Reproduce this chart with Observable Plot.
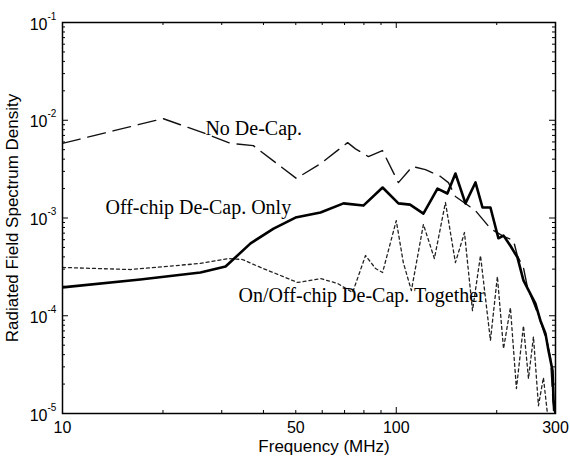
<!DOCTYPE html>
<html><head><meta charset="utf-8">
<script src="https://cdn.jsdelivr.net/npm/d3@7"></script>
<script src="https://cdn.jsdelivr.net/npm/@observablehq/plot@0.6"></script>
<style>body{margin:0;background:#fff}</style>
</head><body><div id="chart"></div>
<script>
// ---- data ----
const noDecapFreq = [10, 20, 26.8, 31.9, 37.3, 50.2, 59.3, 71.5, 75.5, 82.5, 90.9, 101.5, 111.8, 122.3, 135.7, 143.3, 150.4, 172.7, 191.5, 209.6, 224.4, 230.7, 240.5, 247.3, 270.4, 283.8, 289.8, 296];
const noDecapVal = [5.8e-3, 1.04e-2, 7.3e-3, 5.8e-3, 5.5e-3, 2.54e-3, 3.6e-3, 5.9e-3, 5.1e-3, 4.25e-3, 4.9e-3, 2.3e-3, 3.37e-3, 3.13e-3, 2.66e-3, 2.3e-3, 1.66e-3, 1.19e-3, 7.8e-4, 6.5e-4, 5.9e-4, 4.1e-4, 3.1e-4, 1.95e-4, 8.9e-5, 5.2e-5, 3.7e-5, 1.07e-5];

const offChipFreq = [10, 17.1, 25.9, 30.8, 36.6, 42.9, 49.9, 59.3, 69.5, 79.7, 91, 101.5, 110, 120.6, 132.9, 142.3, 150.4, 161.2, 172.7, 181.3, 191.5, 202.3, 209.6, 219.8, 230.7, 240.5, 261.2, 270.4, 279.9, 285.8, 293.9, 296, 300];
const offChipVal = [1.95e-4, 2.35e-4, 2.77e-4, 3.19e-4, 5.5e-4, 7.8e-4, 1.01e-3, 1.14e-3, 1.41e-3, 1.34e-3, 2.05e-3, 1.41e-3, 1.37e-3, 1.11e-3, 2.0e-3, 1.78e-3, 2.85e-3, 1.41e-3, 2.31e-3, 1.28e-3, 1.28e-3, 6.2e-4, 6.6e-4, 5.2e-4, 3.95e-4, 2.3e-4, 1.33e-4, 8.9e-5, 6.6e-5, 4.4e-5, 2.75e-5, 1.36e-5, 1e-5];

const togetherFreq = [10, 16.0, 25.9, 31.4, 34.6, 39.2, 45.0, 50.6, 59.3, 66.7, 74.0, 80.9, 86.7, 91, 100, 105, 111, 120.6, 130.1, 140.4, 150.4, 160.1, 169.2, 178.8, 191.5, 200.9, 209.6, 219.8, 229.1, 240.5, 249, 257.7, 266.7, 276, 285.8];
const togetherVal = [3.12e-4, 2.97e-4, 3.43e-4, 3.85e-4, 3.76e-4, 3.12e-4, 2.58e-4, 2.19e-4, 2.40e-4, 2.14e-4, 1.73e-4, 4.13e-4, 3.04e-4, 2.77e-4, 9.4e-4, 3.5e-4, 1.81e-4, 8.6e-4, 3.85e-4, 1.44e-3, 3.5e-4, 7.1e-4, 1.13e-4, 4.13e-4, 5.6e-5, 2.52e-4, 4.6e-5, 1.21e-4, 1.8e-5, 7.9e-5, 2.28e-5, 6.1e-5, 1.2e-5, 2.33e-5, 8e-6];

const labelTexts = ["No De-Cap.", "Off-chip De-Cap. Only", "On/Off-chip De-Cap. Together"];
const labelFreq = [26.8, 13.45, 33.7];
const labelVal = [8.2e-3, 1.28e-3, 1.61e-4];

const xTickLabels = [10, 50, 100, 300];
const xMajorTicks = [10, 100];
const xMinorTicks = [20, 30, 40, 50, 60, 70, 80, 90, 200, 300];
const yMajorTicks = [1e-5, 1e-4, 1e-3, 1e-2, 1e-1];
const yMinorTicks = [1e-5, 1e-4, 1e-3, 1e-2].flatMap(b => [2,3,4,5,6,7,8,9].map(m => m * b));

const xTitle = "Frequency (MHz)";
const yTitle = "Radiated Field Spectrum Density";

// ---- build ----
const zip = (fs, vs) => fs.map((f, i) => ({f, v: vs[i]}));
const noDecap = zip(noDecapFreq, noDecapVal);
const offChip = zip(offChipFreq, offChipVal);
const together = zip(togetherFreq, togetherVal);
const labels = labelTexts.map((t, i) => ({t, f: labelFreq[i], v: labelVal[i]}));

const W = 570, H = 459, mL = 62, mR = 15, mT = 22, mB = 46;
const pw = W - mL - mR, ph = H - mT - mB;

const chart = Plot.plot({
  width: W, height: H,
  marginLeft: mL, marginRight: mR, marginTop: mT, marginBottom: mB,
  style: {fontFamily: "'Liberation Sans', Arial, sans-serif", fontSize: "15px", background: "#fff", color: "#000"},
  x: {type: "log", domain: [10, 300]},
  y: {type: "log", domain: [1e-5, 1e-1], axis: null},
  marks: [
    // y tick labels: base "10" plus superscript exponent
    Plot.text(yMajorTicks, {y: d => d, frameAnchor: "left", text: () => "10", textAnchor: "end", dx: -15, dy: 2, lineAnchor: "middle", fontSize: 16, fill: "#000"}),
    Plot.text(yMajorTicks, {y: d => d, frameAnchor: "left", text: d => String(Math.round(Math.log10(d))), textAnchor: "start", dx: -15, dy: -6, lineAnchor: "middle", fontSize: 10, fill: "#000"}),
    Plot.axisX({ticks: xTickLabels, tickSize: 0, tickPadding: 8, tickFormat: d => String(d), label: null, fontSize: 16}),
    // inward ticks
    Plot.tickY(yMajorTicks, {y: d => d, insetRight: pw - 6, stroke: "#000"}),
    Plot.tickY(yMajorTicks, {y: d => d, insetLeft: pw - 6, stroke: "#000"}),
    Plot.tickY(yMinorTicks, {y: d => d, insetRight: pw - 3, stroke: "#000"}),
    Plot.tickY(yMinorTicks, {y: d => d, insetLeft: pw - 3, stroke: "#000"}),
    Plot.tickX(xMajorTicks, {x: d => d, insetTop: ph - 6, stroke: "#000"}),
    Plot.tickX(xMajorTicks, {x: d => d, insetBottom: ph - 6, stroke: "#000"}),
    Plot.tickX(xMinorTicks, {x: d => d, insetTop: ph - 3, stroke: "#000"}),
    Plot.tickX(xMinorTicks, {x: d => d, insetBottom: ph - 3, stroke: "#000"}),
    // series
    Plot.line(together, {x: "f", y: "v", stroke: "#222", strokeWidth: 1.3, strokeDasharray: "3,3", clip: true}),
    Plot.line(noDecap, {x: "f", y: "v", stroke: "#111", strokeWidth: 1.4, strokeDasharray: "18,8", clip: true}),
    Plot.line(offChip, {x: "f", y: "v", stroke: "#000", strokeWidth: 2.6, clip: true}),
    // annotations
    Plot.text(labels, {x: "f", y: "v", text: "t", textAnchor: "start", lineAnchor: "middle",
      fontFamily: "'Liberation Serif', 'Times New Roman', serif", fontSize: 20, fill: "#000"}),
    // titles
    Plot.text([xTitle], {frameAnchor: "bottom", dy: 33, dx: 15, textAnchor: "middle", lineAnchor: "middle", fontSize: 17, fill: "#000"}),
    Plot.text([yTitle], {frameAnchor: "left", dx: -50, rotate: -90, textAnchor: "middle", lineAnchor: "middle", fontSize: 17, fill: "#000"}),
    Plot.frame({stroke: "#000", strokeWidth: 1.5})
  ]
});
document.getElementById("chart").appendChild(chart);
</script>
</body></html>
